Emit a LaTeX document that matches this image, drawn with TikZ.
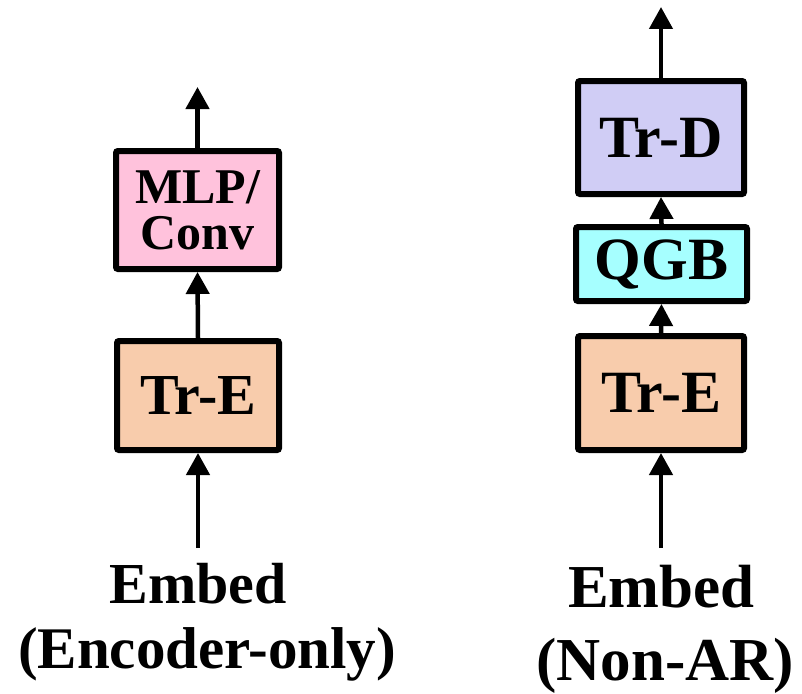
\documentclass[tikz,border=0pt]{standalone}
\usepackage{fontspec}
\setmainfont{Liberation Serif}
\usetikzlibrary{arrows.meta}
\definecolor{pinkbox}{RGB}{255,194,220}
\definecolor{peachbox}{RGB}{248,204,172}
\definecolor{lavbox}{RGB}{208,205,245}
\definecolor{cyanbox}{RGB}{166,255,255}
\begin{document}
\begin{tikzpicture}[x=1pt,y=-1pt,
  blockbox/.style={draw=black, line width=6pt, rounded corners=2pt, inner sep=0pt, align=center},
  flow/.style={line width=4.5pt, -{Triangle[width=23pt,length=22pt]}},
  lbl/.style={inner sep=0pt, anchor=base}]
\useasboundingbox (0,0) rectangle (802,693);
% left column
\node[blockbox, fill=pinkbox, minimum width=163pt, minimum height=118pt,
      font=\fontsize{50}{46}\selectfont\bfseries] (mlp) at (197.5,210) {MLP/\\Conv};
\node[blockbox, fill=peachbox, minimum width=162pt, minimum height=109pt,
      font=\fontsize{58}{58}\selectfont\bfseries] (tre1) at (198,395.5) {Tr-E};
\coordinate (out1) at (197.5,87);
\coordinate (in1) at (198,548);
\node[lbl, font=\fontsize{58}{58}\selectfont\bfseries] (emb1) at (198,603) {Embed};
\node[lbl, font=\fontsize{59}{59}\selectfont\bfseries] (cap1) at (207,668) {(Encoder-only)};
\draw[flow] (mlp.north) -- (out1);
\draw[flow] (tre1.north) -- (mlp.south);
\draw[flow] (in1) -- (tre1.south);
% right column
\node[blockbox, fill=lavbox, minimum width=166pt, minimum height=113pt,
      font=\fontsize{60}{60}\selectfont\bfseries] (trd) at (661,137.5) {Tr-D};
\node[blockbox, fill=cyanbox, minimum width=171pt, minimum height=74pt,
      font=\fontsize{60}{60}\selectfont\bfseries] (qgb) at (661.5,264) {QGB};
\node[blockbox, fill=peachbox, minimum width=166pt, minimum height=114pt,
      font=\fontsize{60}{60}\selectfont\bfseries] (tre2) at (661,393) {Tr-E};
\coordinate (out2) at (661,7);
\coordinate (in2) at (661,548);
\node[lbl, font=\fontsize{61}{61}\selectfont\bfseries] (emb2) at (661.5,607) {Embed};
\node[lbl, font=\fontsize{61}{61}\selectfont\bfseries] (cap2) at (665,680) {(Non-AR)};
\draw[flow] (trd.north) -- (out2);
\draw[flow] (qgb.north) -- (trd.south);
\draw[flow] (tre2.north) -- (qgb.south);
\draw[flow] (in2) -- (tre2.south);
\end{tikzpicture}
\end{document}
